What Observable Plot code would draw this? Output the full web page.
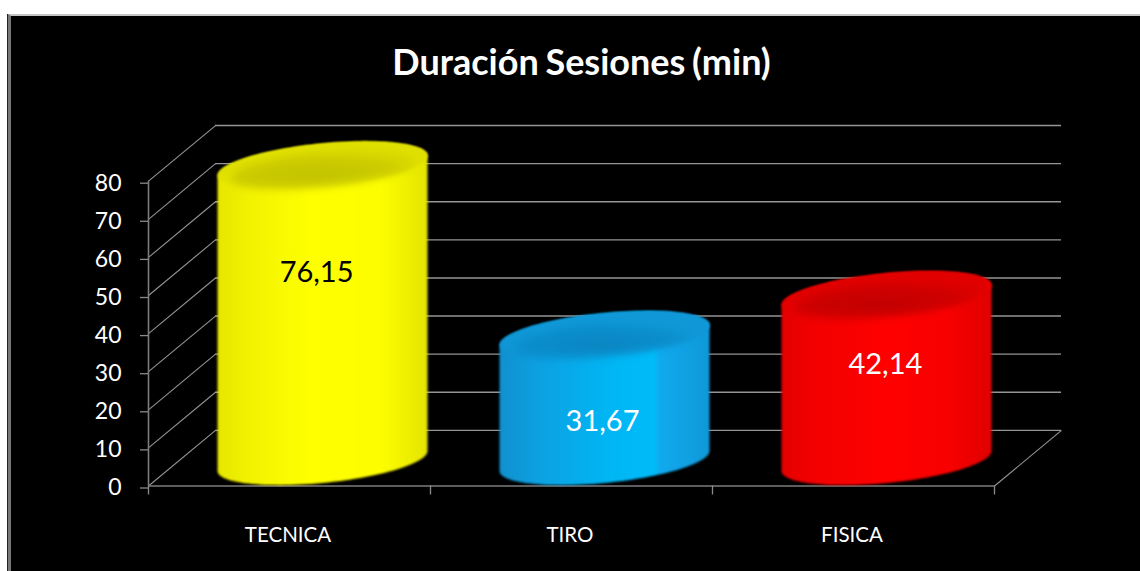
<!DOCTYPE html>
<html><head><meta charset="utf-8">
<script src="https://cdn.jsdelivr.net/npm/d3@7"></script>
<script src="https://cdn.jsdelivr.net/npm/@observablehq/plot@0.6"></script>
<style>
html,body{margin:0;padding:0;background:#fff;overflow:hidden}
#panel{position:absolute;left:8px;top:14px;width:1140px;height:570px;background:#000;border-left:3px solid #777;border-top:2px solid #c4c4c4;box-shadow:-1px 0 0 #222}
#chart{position:absolute;left:0;top:0}
svg{display:block}
svg text{word-spacing:-2px}
</style></head><body>
<div id="panel"></div><div id="chart"></div>
<script>
const categories = ["TECNICA", "TIRO", "FISICA"];
const values = [76.15, 31.67, 42.14];
const yTicks = [0, 10, 20, 30, 40, 50, 60, 70, 80];
const labelX = [0.596, 1.61, 2.613];
const labelY = [56, 16.9, 31.9];
const labelColors = ["#000", "#fff", "#fff"];
const bodyStops = [
  [[0,"#e6e600"],[0.15,"#f2f200"],[0.45,"#ffff00"],[0.78,"#fdfd00"],[1,"#e4e400"]],
  [[0,"#1190cf"],[0.2,"#0ca2e2"],[0.55,"#00b7f5"],[0.735,"#00bbf8"],[0.765,"#10aaee"],[1,"#1098d8"]],
  [[0,"#e40000"],[0.15,"#f20000"],[0.5,"#ff0000"],[0.8,"#f80000"],[1,"#e00000"]]
];
const rimColors = ["#e0e000", "#1098d8", "#e20000"];
const capStops = [
  [[0,"#c4c400"],[0.7,"#cbcb00"],[1,"#d8d800"]],
  [[0,"#0a86c2"],[0.7,"#0b8ecd"],[1,"#0f98d6"]],
  [[0,"#c20000"],[0.7,"#ce0000"],[1,"#dc0000"]]
];

// oblique 3D box: depth expressed in units of the two scales
const depthX = 0.2376, depthY = 14.6;
const halfW = 0.3723, capB = 5.77, capSkew = 2.62, topLift = 7.77, baseLift = 6.43;
const steps = d3.range(0, 61).map(i => i / 60 * Math.PI);

function outline(cx, loC, hiC, k = 1, kb = 1) {
  return steps.map(t => ({
    x: cx + k * halfW * Math.cos(t),
    y1: loC + capSkew * k * Math.cos(t) - kb * capB * Math.sin(t),
    y2: hiC + capSkew * k * Math.cos(t) + kb * capB * Math.sin(t)
  }));
}
function defs() {
  const d = d3.create("svg:defs");
  bodyStops.forEach((stops, i) => {
    const g = d.append("linearGradient").attr("id", "body" + i);
    stops.forEach(([o, c]) => g.append("stop").attr("offset", o).attr("stop-color", c));
  });
  rimColors.forEach((c, i) => {
    const g = d.append("linearGradient").attr("id", "rim" + i).attr("x1", 0).attr("x2", 0).attr("y1", 0).attr("y2", 1);
    g.append("stop").attr("offset", 0.55).attr("stop-color", c);
    g.append("stop").attr("offset", 1).attr("stop-color", c).attr("stop-opacity", 0);
  });
  capStops.forEach((stops, i) => {
    const g = d.append("radialGradient").attr("id", "cap" + i).attr("cx", 0.47).attr("cy", 0.65).attr("r", 0.62);
    stops.forEach(([o, c]) => g.append("stop").attr("offset", o).attr("stop-color", c));
  });
  return d.node();
}
const cylinders = categories.flatMap((c, i) => {
  const cx = i + 0.5 + depthX / 2;
  const top = values[i] + topLift;
  return [
    Plot.area(outline(cx, baseLift, top), {x1: "x", y1: "y1", y2: "y2", fill: `url(#body${i})`, imageFilter: "blur(0.8px)"}),
    Plot.area(outline(cx, top, top), {x1: "x", y1: "y1", y2: "y2", fill: `url(#rim${i})`, imageFilter: "blur(0.8px)"}),
    Plot.area(outline(cx, top - 1, top - 1, 0.88, 0.78), {x1: "x", y1: "y1", y2: "y2", fill: `url(#cap${i})`, imageFilter: "blur(4.5px)"})
  ];
});
const gridColor = "#959595";
const plot = Plot.plot({
  width: 1140, height: 571,
  marginLeft: 148, marginRight: 146, marginTop: 180.7, marginBottom: 85.5,
  x: {domain: [0, 3]},
  y: {domain: [0, 80]},
  style: {background: "transparent", fontFamily: "Lato", color: "#fff", overflow: "visible"},
  marks: [
    defs,
    Plot.ruleY(yTicks, {x1: depthX, x2: 3 + depthX, y: d => d + depthY, stroke: gridColor, strokeWidth: 1.4}),
    Plot.link(yTicks, {x1: 0, y1: d => d, x2: depthX, y2: d => d + depthY, stroke: gridColor, strokeWidth: 1.1}),
    Plot.link([0], {x1: 3, y1: 0, x2: 3 + depthX, y2: depthY, stroke: gridColor, strokeWidth: 1.1}),
    Plot.ruleY([0], {x1: 0, x2: 3, stroke: "#7c7c7c", strokeWidth: 1.6}),
    Plot.ruleX([0], {y1: 0, y2: 80, stroke: "#7c7c7c", strokeWidth: 1.6}),
    Plot.axisY({ticks: yTicks, tickSize: 8, tickPadding: 19, fontSize: 23, stroke: "#8a8a8a", fill: "#fff", label: null, strokeWidth: 1.3, textStroke: "none", dy: 2}),
    Plot.axisX({ticks: [0, 1, 2, 3], tickSize: 9, tickFormat: () => "", stroke: "#8a8a8a", label: null, strokeWidth: 1.3}),
    ...cylinders,
    Plot.text(categories, {x: (d, i) => i + 0.5, y: 0, dy: 49, dx: -1.5, text: d => d, fill: "#fff", fontSize: 20.5}),
    Plot.text(values, {x: (d, i) => labelX[i], y: (d, i) => labelY[i], text: d => String(d).replace(".", ","), fill: (d, i) => labelColors[i], fontSize: 29}),
    Plot.text(["Duración Sesiones (min)"], {frameAnchor: "top", dx: 10, dy: -132, text: d => d, fill: "#fff", fontSize: 36, fontWeight: 700})
  ]
});
document.getElementById("chart").append(plot);
</script>
</body></html>
